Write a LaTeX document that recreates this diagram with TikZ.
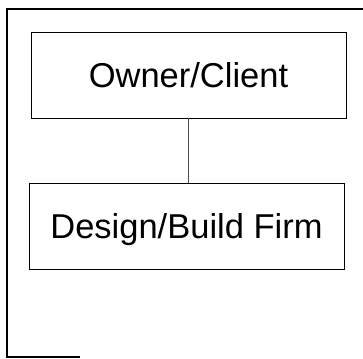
\documentclass[tikz,border=0pt]{standalone}
\usepackage{fontspec}
\setmainfont{Liberation Sans}
\usepackage{tikz}

\begin{document}
\begin{tikzpicture}[x=1pt,y=-1pt]
\tikzset{orgbox/.style={draw, line width=0.8pt, minimum width=315pt, minimum height=86pt,
  inner sep=0pt, text height=24.7pt, text depth=0pt, font=\fontsize{34.5}{40}\selectfont}}
\useasboundingbox (0,0) rectangle (363,358);

%% cadre
\draw[line width=1.4pt] (363,9) -- (7,9) -- (7,357) -- (80,357);

%% boites
\node[orgbox] (owner) at (188.5,75) {Owner/Client};
\node[orgbox] (firm) at (186.5,226) {Design/Build Firm};

%% trait
\draw[line width=0.6pt, black!70] (owner.south) -- (owner.south |- firm.north);
\end{tikzpicture}
\end{document}
